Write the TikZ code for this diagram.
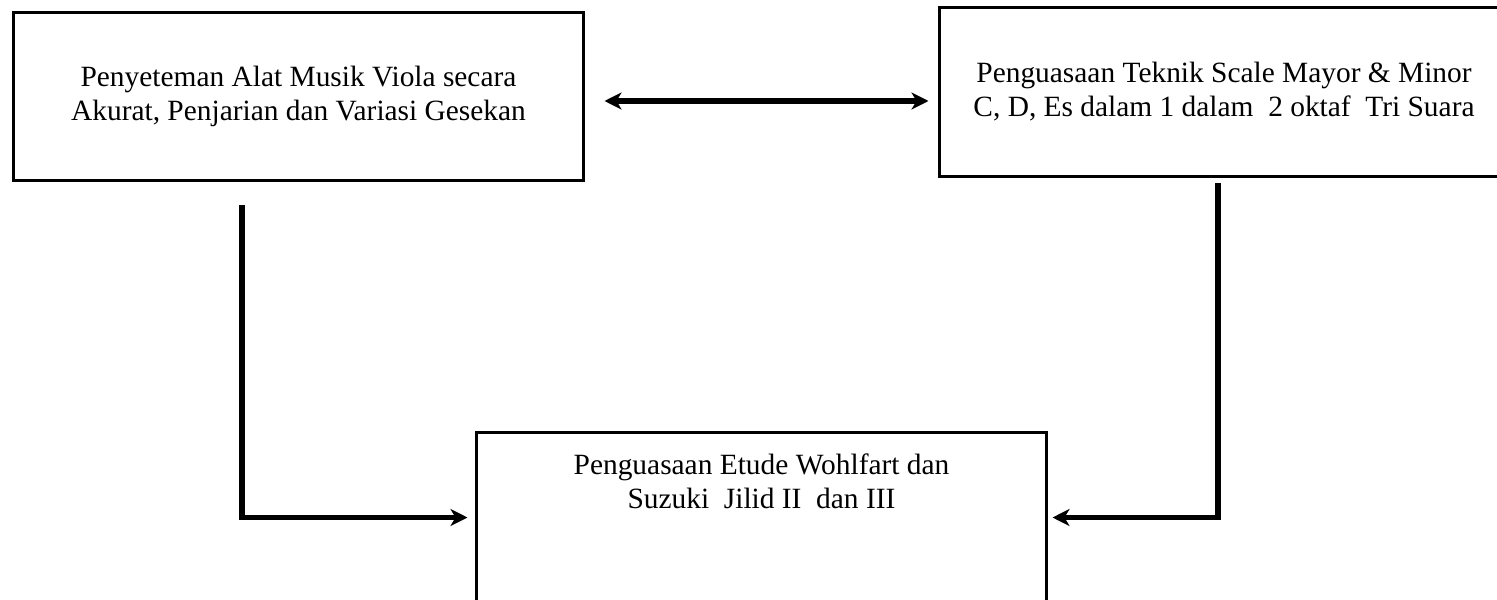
\documentclass[tikz,border=0pt]{standalone}
\usepackage{fontspec}
\setmainfont{Liberation Serif}
\usetikzlibrary{calc,arrows.meta}

\tikzset{
  kotak/.style={draw,line width=1.5pt,minimum width=285pt,minimum height=84pt,inner sep=0pt,align=center,font=\fontsize{14.7}{17}\selectfont},
  teks/.style={align=center,inner sep=0pt,font=\fontsize{14.7}{17}\selectfont},
  panah/.style={line width=2.75pt,-{Stealth[length=8.5pt,width=8.5pt,inset=2.5pt]}},
  panahdua/.style={line width=2.75pt,{Stealth[length=8.5pt,width=8.5pt,inset=2.5pt]}-{Stealth[length=8.5pt,width=8.5pt,inset=2.5pt]}},
}

\begin{document}
\begin{tikzpicture}[x=0.5pt,y=-0.5pt]
            \useasboundingbox (0,0) rectangle (1497,599);
            \node[kotak] (viola) at (298.5,96.5) {Penyeteman Alat Musik Viola secara\\Akurat, Penjarian dan Variasi Gesekan};
            \node[kotak] (teknik) at (1224,92) {Penguasaan Teknik Scale Mayor \& Minor\\C, D, Es dalam 1 dalam\ \ 2 oktaf\ \ Tri Suara};
            % bottom edge falls outside the page
            \node[kotak,minimum height=90pt] (etude) at (761.5,522.5) {};
            \node[teks] (etudeteks) at ($(etude.north)+(0,50)$) {Penguasaan Etude Wohlfart dan\\Suzuki\ \ Jilid II\ \ dan III};

            \coordinate (kiri) at (242,205);
            \coordinate (kanan) at (1218,183);

            \draw[panahdua] ($(viola.east)+(19.5,4.5)$) -- ($(teknik.west)+(-9,9)$);
            \draw[panah] (kiri) |- ($(etude.west)+(-7.5,-5)$);
            \draw[panah] (kanan) |- ($(etude.east)+(4.5,-5)$);
        \end{tikzpicture}
\end{document}
